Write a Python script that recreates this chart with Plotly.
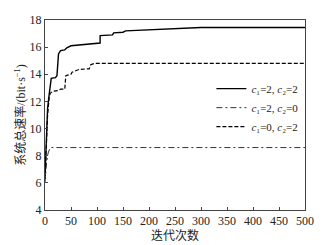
import plotly.graph_objects as go

# Solid: c1=2, c2=2
x_a = [0, 3, 5, 8, 12, 20, 23, 26, 30, 38, 42, 50, 100, 106, 106, 130, 132, 150, 155, 180, 200, 230, 260, 300, 500]
y_a = [6.5, 9.5, 11.5, 12.5, 13.7, 13.75, 13.9, 15.5, 15.75, 15.8, 15.95, 16.1, 16.3, 16.3, 16.85, 16.9, 17.05, 17.1, 17.2, 17.25, 17.3, 17.35, 17.4, 17.45, 17.45]
# Dash-dot: c1=2, c2=0
x_b = [0, 3, 6, 10, 500]
y_b = [6.0, 7.5, 8.2, 8.6, 8.6]
# Dashed: c1=0, c2=2
x_c = [0, 3, 5, 8, 10, 15, 25, 30, 38, 40, 45, 50, 52, 60, 65, 80, 85, 88, 95, 100, 500]
y_c = [6.3, 9.0, 11.0, 12.3, 12.6, 12.75, 12.8, 12.9, 12.9, 13.9, 13.95, 14.0, 14.15, 14.25, 14.35, 14.4, 14.4, 14.7, 14.8, 14.8, 14.8]

names = ["<i>c</i>₁=2, <i>c</i>₂=2",
         "<i>c</i>₁=2, <i>c</i>₂=0",
         "<i>c</i>₁=0, <i>c</i>₂=2"]

FONT = "Times New Roman, Liberation Serif, Noto Sans CJK SC, serif"

fig = go.Figure()
fig.add_trace(go.Scatter(x=x_a, y=y_a, mode="lines", name=names[0],
                         line=dict(color="black", width=1.4, dash="solid")))
fig.add_trace(go.Scatter(x=x_b, y=y_b, mode="lines", name=names[1],
                         line=dict(color="#333333", width=1, dash="6px,3px,2px,3px")))
fig.add_trace(go.Scatter(x=x_c, y=y_c, mode="lines", name=names[2],
                         line=dict(color="black", width=1.2, dash="4px,2px")))

axis_common = dict(showgrid=False, zeroline=False, showline=True, linecolor="#444444",
                   linewidth=1, mirror=True, ticks="inside", ticklen=3, tickcolor="#444444",
                   automargin=False,
                   tickfont=dict(family=FONT, size=12, color="#222222"))

fig.update_layout(
    width=330, height=245,
    margin=dict(l=45, r=25, t=20, b=35),
    plot_bgcolor="white", paper_bgcolor="white",
    font=dict(family=FONT, color="#222222"),
    xaxis=dict(range=[0, 500], dtick=50, tick0=0,
               title=dict(text="迭代次数", font=dict(family=FONT, size=12), standoff=1),
               **axis_common),
    yaxis=dict(range=[4, 18], dtick=2, tick0=4,
               title=dict(text="系统总速率/(bit·s<sup>−1</sup>)", font=dict(family=FONT, size=12), standoff=1),
               **axis_common),
    legend=dict(x=0.64, y=0.715, xanchor="left", yanchor="top",
                bgcolor="rgba(255,255,255,0)", borderwidth=0,
                font=dict(family=FONT, size=11, color="#222222"),
                tracegroupgap=0, itemwidth=30),
    showlegend=True,
)

fig.write_html("out.html", config={"displayModeBar": False},
               post_script="document.body.style.margin='0';")
